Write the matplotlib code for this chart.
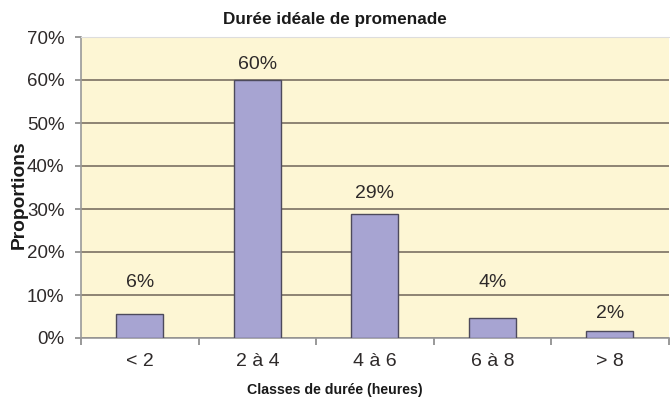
import numpy as np
import matplotlib.pyplot as plt
import matplotlib.ticker as mtick

plt.rcParams["font.family"] = ["Liberation Sans", "DejaVu Sans"]

categories = ["< 2", "2 à 4", "4 à 6", "6 à 8", "> 8"]
values = [5.6, 60.0, 28.8, 4.6, 1.7]
labels = ["6%", "60%", "29%", "4%", "2%"]
label_y = [12.8, 63.6, 33.7, 12.8, 5.8]

fig = plt.figure(figsize=(6.7, 4), dpi=100)
ax = fig.add_axes([0.121, 0.155, 0.877, 0.7525])
ax.set_facecolor("#fdf6d4")

x = np.arange(len(categories))
ax.bar(x, values, width=0.4, color="#a7a4d2", edgecolor="#4d4a5c", linewidth=1.0, zorder=3)

for xi, t, ly in zip(x, labels, label_y):
    ax.text(xi, ly, t, ha="center", va="center", fontsize=14, color="#2e2a2a", zorder=4)

ax.set_xlim(-0.5, len(categories) - 0.5)
ax.set_ylim(0, 70)
ax.set_yticks(np.arange(0, 71, 10))
ax.yaxis.set_major_formatter(mtick.FuncFormatter(lambda v, p: "%d%%" % v))
ax.yaxis.grid(True, color="#857b6b", linewidth=1.3, zorder=1)
ax.set_xticks(x)
ax.set_xticklabels(categories)
ax.set_xticks(np.arange(-0.5, len(categories), 1.0), minor=True)
ax.tick_params(axis="x", which="major", length=0, pad=11, labelsize=14, labelcolor="#2e2a2a")
ax.tick_params(axis="x", which="minor", length=5, color="#888888", width=1.2)
ax.tick_params(axis="y", length=4, pad=8, color="#888888", width=1.2, labelsize=13.5, labelcolor="#2e2a2a")

for s in ["left", "bottom"]:
    ax.spines[s].set_color("#999999")
    ax.spines[s].set_linewidth(1.2)
ax.spines["top"].set_color("#dddddd")
ax.spines["right"].set_visible(False)

fig.text(0.5, 0.952, "Durée idéale de promenade", ha="center", va="center",
         fontsize=12.3, fontweight="bold", color="#1a1a1a")
fig.text(0.028, 0.5125, "Proportions", ha="center", va="center", rotation=90,
         fontsize=13.9, fontweight="bold", color="#1a1a1a")
fig.text(0.5, 0.025, "Classes de durée (heures)", ha="center", va="center",
         fontsize=10.2, fontweight="bold", color="#1a1a1a")

fig.savefig("out.png", dpi=100)
